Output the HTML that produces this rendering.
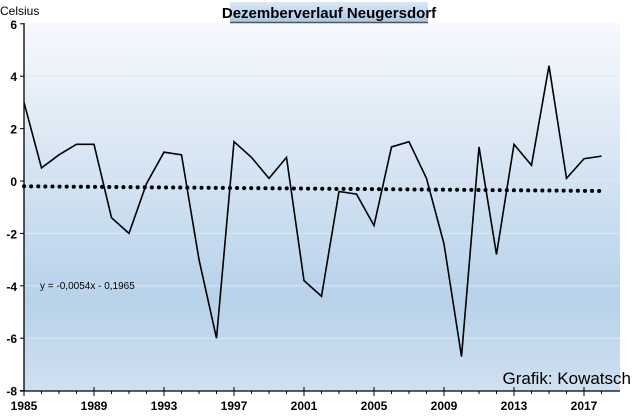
<!DOCTYPE html>
<html><head><meta charset="utf-8"><style>
body{margin:0;width:640px;height:414px;background:#fff;overflow:hidden;font-family:"Liberation Sans",sans-serif}
</style></head><body>
<svg id="c" width="640" height="414" xmlns="http://www.w3.org/2000/svg">
<defs>
<linearGradient id="bg" x1="0" y1="0" x2="0" y2="1">
<stop offset="0" stop-color="#f6f9fd"/><stop offset="0.75" stop-color="#b8d2ea"/><stop offset="1" stop-color="#cfe0f0"/>
</linearGradient>
<linearGradient id="tb" x1="0" y1="0" x2="0" y2="1">
<stop offset="0" stop-color="#dbe8f5"/><stop offset="1" stop-color="#a9c8e6"/>
</linearGradient>
</defs>
<rect x="24" y="23" width="596" height="368" fill="url(#bg)"/>
<g id="grid"></g>
<g id="axes"></g>
<polyline id="trend" fill="none" stroke="#000" stroke-width="4" stroke-dasharray="0.1 7" stroke-linecap="round"/>
<polyline id="line" fill="none" stroke="#000" stroke-width="1.6"/>
<rect x="230" y="2" width="198" height="20" fill="url(#tb)"/>
<line x1="230" y1="22.5" x2="428" y2="22.5" stroke="#555" stroke-width="1.5"/>
<text x="329" y="18" text-anchor="middle" font-size="15" font-weight="bold">Dezemberverlauf Neugersdorf</text>
<text x="0" y="15" font-size="12">Celsius</text>
<text x="40" y="289" font-size="10">y = -0,0054x - 0,1965</text>
<text x="631" y="384" text-anchor="end" font-size="17">Grafik: Kowatsch</text>
</svg>
<script>
const years=[1985,1986,1987,1988,1989,1990,1991,1992,1993,1994,1995,1996,1997,1998,1999,2000,2001,2002,2003,2004,2005,2006,2007,2008,2009,2010,2011,2012,2013,2014,2015,2016,2017,2018];
const temps=[3.0,0.5,1.0,1.4,1.4,-1.4,-2.0,-0.1,1.1,1.0,-3.0,-6.0,1.5,0.9,0.1,0.9,-3.8,-4.4,-0.4,-0.5,-1.7,1.3,1.5,0.1,-2.4,-6.7,1.3,-2.8,1.4,0.6,4.4,0.1,0.85,0.95];
const yTicks=[6,4,2,0,-2,-4,-6,-8];
const xTickLabels=[1985,1989,1993,1997,2001,2005,2009,2013,2017];
const trendSlope=-0.0054, trendIntercept=-0.1965;
const NS="http://www.w3.org/2000/svg";
const X=v=>24+(v-1985)*17.5;
const Y=v=>181-v*26.2;
function mk(t,a,p){const e=document.createElementNS(NS,t);for(const k in a)e.setAttribute(k,a[k]);p.appendChild(e);return e;}
const grid=document.getElementById('grid'),axes=document.getElementById('axes');
yTicks.forEach(v=>{
 if(v>-8&&v<6){const g=mk('line',{x1:24,x2:620,y1:Y(v),y2:Y(v),stroke:'#dfe7f0','stroke-width':1},grid);
 
 }
 const t=mk('text',{x:17,y:Y(v)+5,'text-anchor':'end','font-size':12,'font-weight':'bold'},axes);t.textContent=v;
 
 
 mk('line',{x1:20,x2:24,y1:Y(v),y2:Y(v),stroke:'#000'},axes);
});
mk('line',{x1:24,x2:24,y1:23,y2:391,stroke:'#000','stroke-width':1.3},axes);
mk('line',{x1:20,x2:620,y1:391,y2:391,stroke:'#000','stroke-width':1.3},axes);
years.forEach(y=>mk('line',{x1:X(y),x2:X(y),y1:391,y2:394,stroke:'#000'},axes));
xTickLabels.forEach(y=>{
 mk('line',{x1:X(y),x2:X(y),y1:387,y2:396,stroke:'#000'},axes);
 const t=mk('text',{x:X(y),y:410,'text-anchor':'middle','font-size':12,'font-weight':'bold'},axes);t.textContent=y;
 
 
});
document.getElementById('line').setAttribute('points',years.map((y,i)=>X(y)+','+Y(temps[i])).join(' '));
document.getElementById('trend').setAttribute('points',years.map((y,i)=>X(y)+','+Y(trendSlope*(i+1)+trendIntercept)).join(' '));
</script>
</body></html>
